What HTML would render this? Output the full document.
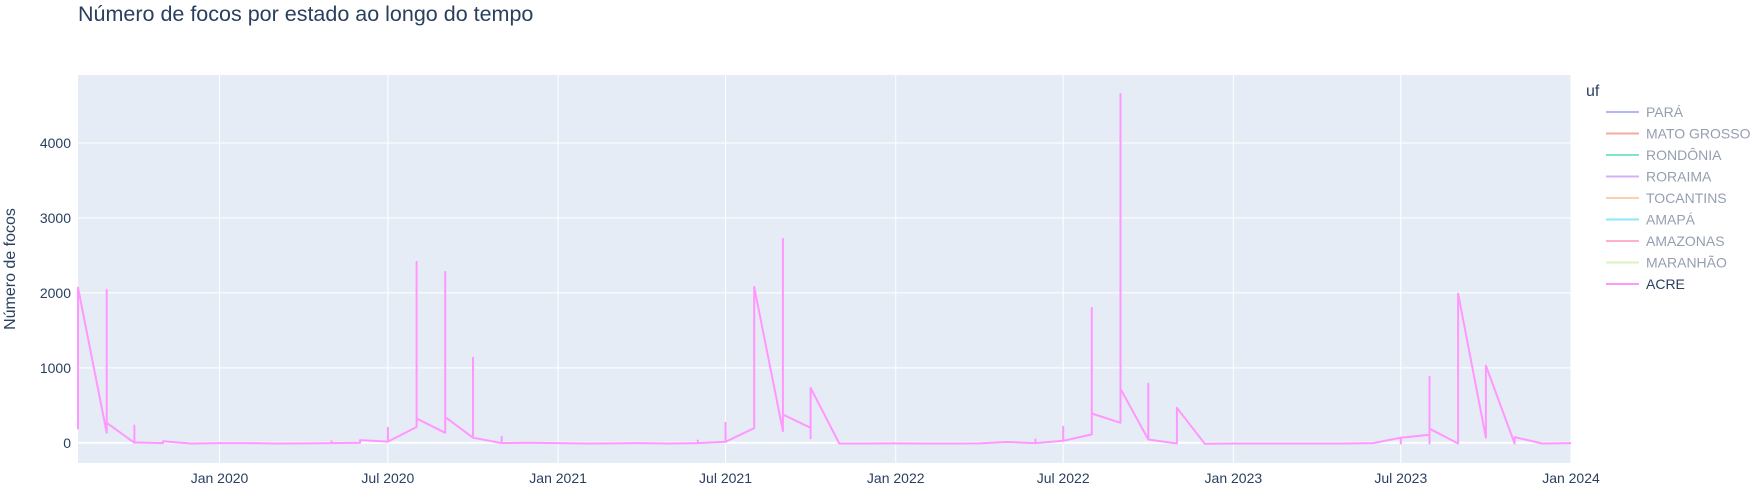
<!DOCTYPE html>
<html><head><meta charset="utf-8">
<style>
body{margin:0;background:#fff;}
svg{display:block;font-family:"Liberation Sans",sans-serif;}
</style></head>
<body>
<svg id="chart" width="1753" height="493" viewBox="0 0 1753 493" xmlns="http://www.w3.org/2000/svg">
<text x="78" y="21" font-size="21.5" fill="#2a3f5f">Número de focos por estado ao longo do tempo</text>
<rect x="78" y="75" width="1493" height="388" fill="#e5ecf6"/>
<g id="grid"></g>
<g id="series"></g>
<g id="axes"></g>
<text transform="translate(15,269) rotate(-90)" text-anchor="middle" font-size="16" fill="#2a3f5f">Número de focos</text>
<g id="legend"></g>
</svg>
<script>
const months = ["2019-08","2019-09","2019-10","2019-11","2019-12","2020-01","2020-02","2020-03","2020-04","2020-05","2020-06","2020-07","2020-08","2020-09","2020-10","2020-11","2020-12","2021-01","2021-02","2021-03","2021-04","2021-05","2021-06","2021-07","2021-08","2021-09","2021-10","2021-11","2021-12","2022-01","2022-02","2022-03","2022-04","2022-05","2022-06","2022-07","2022-08","2022-09","2022-10","2022-11","2022-12","2023-01","2023-02","2023-03","2023-04","2023-05","2023-06","2023-07","2023-08","2023-09","2023-10","2023-11","2023-12","2024-01"];
const acreValues = [[180,2070],[133,2040,266],[0,230,5],[-5,20],[-10],[-5],[-5],[-10],[-8],[-5,20,-5],[0,35],[15,200,15],[210,2413,324],[133,2280,342],[67,1133,67],[-5,80,-5],[0],[-5],[-10],[-8],[-5],[-10],[-5,30,-5],[13,266,13],[195,2080],[155,2720,377],[200,58,733],[-10],[-10],[-8],[-10],[-10],[-8],[10],[-5,44,-5],[26,213,26],[111,1800,390],[266,4653,720],[44,790,44],[-10,466],[-13],[-10],[-10],[-10],[-10],[-10],[-5],[67,-10,67],[107,-10,880,187],[-10,1990],[67,1030],[-10,75],[-10],[-5]];
const yTicks = [0,1000,2000,3000,4000];
const xTickDates = ["2020-01-01","2020-07-01","2021-01-01","2021-07-01","2022-01-01","2022-07-01","2023-01-01","2023-07-01","2024-01-01"];
const xTickLabels = ["Jan 2020","Jul 2020","Jan 2021","Jul 2021","Jan 2022","Jul 2022","Jan 2023","Jul 2023","Jan 2024"];
const legendNames = ["PARÁ","MATO GROSSO","RONDÔNIA","RORAIMA","TOCANTINS","AMAPÁ","AMAZONAS","MARANHÃO","ACRE"];
const legendColors = ["#636efa","#EF553B","#00cc96","#ab63fa","#FFA15A","#19d3f3","#FF6692","#B6E880","#FF97FF"];

const NS="http://www.w3.org/2000/svg";
const L=78,R=1571,T=75,B=463;
const d0=Date.UTC(2019,7,1), d1=Date.UTC(2024,0,1);
const yMin=-270,yMax=4907;
function xs(s){const p=s.split("-");const t=Date.UTC(+p[0],+p[1]-1,p[2]?+p[2]:1);return L+(t-d0)/(d1-d0)*(R-L);}
function ys(v){return B-(v-yMin)/(yMax-yMin)*(B-T);}
function mk(tag,attrs,parent){const e=document.createElementNS(NS,tag);for(const k in attrs)e.setAttribute(k,attrs[k]);parent.appendChild(e);return e;}
const grid=document.getElementById("grid"),axes=document.getElementById("axes"),series=document.getElementById("series"),legend=document.getElementById("legend");
yTicks.forEach(v=>{
  const y=ys(v);
  const g=mk("line",{x1:L,x2:R,y1:y,y2:y,stroke:"#fff","stroke-width":v===0?2:1},grid);
  
  
  const t=mk("text",{x:L-7,y:y+5,"text-anchor":"end","font-size":"14",fill:"#2a3f5f"},axes);
  t.textContent=v;
  
  
});
xTickDates.forEach((d,i)=>{
  const x=xs(d);
  const g=mk("line",{x1:x,x2:x,y1:T,y2:B,stroke:"#fff","stroke-width":1},grid);
  
  
  const t=mk("text",{x:x,y:B+20,"text-anchor":"middle","font-size":"14",fill:"#2a3f5f"},axes);
  t.textContent=xTickLabels[i];
  
  
});
let pts=[];
months.forEach((m,i)=>{acreValues[i].forEach(v=>pts.push(xs(m).toFixed(1)+","+ys(v).toFixed(1)));});
const pl=mk("polyline",{points:pts.join(" "),fill:"none",stroke:"#FF97FF","stroke-width":2,"stroke-linejoin":"round"},series);


const lt=mk("text",{x:1586,y:96,"font-size":"16",fill:"#2a3f5f"},legend);
lt.textContent="uf";


legendNames.forEach((n,i)=>{
  const y=112+i*21.5;
  const g=mk("g",{opacity:i===8?1:0.5},legend);
  
  
  mk("line",{x1:1606,x2:1639,y1:y,y2:y,stroke:legendColors[i],"stroke-width":2},g);
  const t=mk("text",{x:1646,y:y+5,"font-size":"14",fill:"#2a3f5f"},g);
  t.textContent=n;
});
</script>
</body></html>
